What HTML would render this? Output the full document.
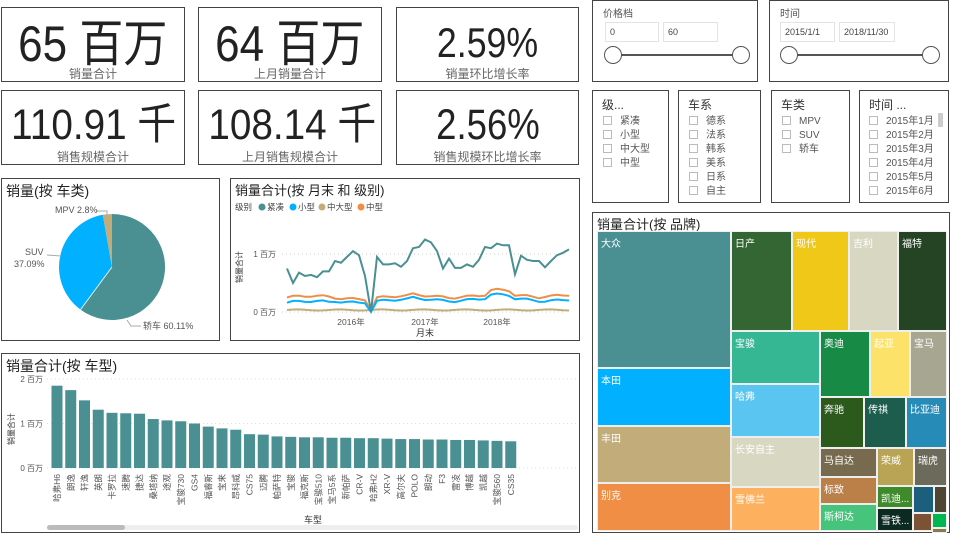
<!DOCTYPE html>
<html><head><meta charset="utf-8">
<style>
*{margin:0;padding:0;box-sizing:border-box}
body{width:956px;height:540px;background:#fff;position:relative;overflow:hidden;font-family:"Liberation Sans","Noto Sans CJK SC",sans-serif;color:#333}
.box{position:absolute;border:1.5px solid #444;background:#fff}
.num{position:absolute;left:0;right:0;text-align:center;font-family:"Liberation Sans Narrow","Liberation Sans","Noto Sans CJK SC",sans-serif;color:#222;white-space:nowrap}
.num span{display:inline-block}
.lab{position:absolute;left:0;right:0;text-align:center;font-size:12px;color:#666;white-space:nowrap}
.t{position:absolute;font-size:13px;color:#222;white-space:nowrap}
.sl{position:absolute;font-size:10px;color:#555;white-space:nowrap}
.cb{display:inline-block;width:9px;height:9px;border:1px solid #bbb;margin-right:8px;vertical-align:-1px}
.ln{height:14px;line-height:14px}
.inp{position:absolute;border:1px solid #e3e3e3;font-size:9px;color:#444;padding-left:4px;line-height:18px;height:20px}
.tm{position:absolute;color:#fff;font-size:10px;padding:3px 0 0 3px;border:1px solid #eee;overflow:hidden;white-space:nowrap}
</style></head><body>

<div class="box" style="left:1px;top:7px;width:184px;height:75px"><div class="num" style="top:8px;font-size:50px;line-height:56px"><span style="transform:scaleX(0.88)">65 百万</span></div><div class="lab" style="top:57px">销量合计</div></div>
<div class="box" style="left:198px;top:7px;width:184px;height:75px"><div class="num" style="top:8px;font-size:50px;line-height:56px"><span style="transform:scaleX(0.88)">64 百万</span></div><div class="lab" style="top:57px">上月销量合计</div></div>
<div class="box" style="left:396px;top:7px;width:183px;height:75px"><div class="num" style="top:12px;font-size:42px;line-height:46px"><span style="transform:scaleX(0.85)">2.59%</span></div><div class="lab" style="top:57px">销量环比增长率</div></div>
<div class="box" style="left:1px;top:90px;width:184px;height:75px"><div class="num" style="top:10px;font-size:43px;line-height:48px"><span style="transform:scaleX(0.9)">110.91 千</span></div><div class="lab" style="top:57px">销售规模合计</div></div>
<div class="box" style="left:198px;top:90px;width:184px;height:75px"><div class="num" style="top:10px;font-size:43px;line-height:48px"><span style="transform:scaleX(0.9)">108.14 千</span></div><div class="lab" style="top:57px">上月销售规模合计</div></div>
<div class="box" style="left:396px;top:90px;width:183px;height:75px"><div class="num" style="top:10px;font-size:43px;line-height:48px"><span style="transform:scaleX(0.85)">2.56%</span></div><div class="lab" style="top:57px">销售规模环比增长率</div></div>

<!-- slicers -->
<div class="box" style="left:592px;top:0;width:166px;height:82px">
 <div class="sl" style="left:10px;top:4px">价格档</div>
 <div class="inp" style="left:12px;top:21px;width:54px">0</div>
 <div class="inp" style="left:70px;top:21px;width:55px">60</div>
 <div style="position:absolute;left:20px;top:53px;width:128px;height:2px;background:#555"></div>
 <div style="position:absolute;left:11px;top:45px;width:18px;height:18px;border:1.5px solid #555;border-radius:50%;background:#fff"></div>
 <div style="position:absolute;left:139px;top:45px;width:18px;height:18px;border:1.5px solid #555;border-radius:50%;background:#fff"></div>
</div>
<div class="box" style="left:769px;top:0;width:180px;height:82px">
 <div class="sl" style="left:10px;top:4px">时间</div>
 <div class="inp" style="left:10px;top:21px;width:55px">2015/1/1</div>
 <div class="inp" style="left:69px;top:21px;width:56px">2018/11/30</div>
 <div style="position:absolute;left:18px;top:53px;width:145px;height:2px;background:#555"></div>
 <div style="position:absolute;left:10px;top:45px;width:18px;height:18px;border:1.5px solid #555;border-radius:50%;background:#fff"></div>
 <div style="position:absolute;left:152px;top:45px;width:18px;height:18px;border:1.5px solid #555;border-radius:50%;background:#fff"></div>
</div>
<div class="box" style="left:592px;top:90px;width:77px;height:113px"><div class="sl" style="left:9px;top:5px;font-size:12px;color:#333">级...</div>
 <div class="sl" style="left:10px;top:24px"><div class="ln"><span class="cb"></span>紧凑</div><div class="ln"><span class="cb"></span>小型</div><div class="ln"><span class="cb"></span>中大型</div><div class="ln"><span class="cb"></span>中型</div></div></div>
<div class="box" style="left:678px;top:90px;width:83px;height:113px"><div class="sl" style="left:9px;top:5px;font-size:12px;color:#333">车系</div>
 <div class="sl" style="left:10px;top:24px"><div class="ln"><span class="cb"></span>德系</div><div class="ln"><span class="cb"></span>法系</div><div class="ln"><span class="cb"></span>韩系</div><div class="ln"><span class="cb"></span>美系</div><div class="ln"><span class="cb"></span>日系</div><div class="ln"><span class="cb"></span>自主</div></div></div>
<div class="box" style="left:771px;top:90px;width:79px;height:113px"><div class="sl" style="left:9px;top:5px;font-size:12px;color:#333">车类</div>
 <div class="sl" style="left:10px;top:24px"><div class="ln"><span class="cb"></span>MPV</div><div class="ln"><span class="cb"></span>SUV</div><div class="ln"><span class="cb"></span>轿车</div></div></div>
<div class="box" style="left:859px;top:90px;width:90px;height:113px"><div class="sl" style="left:9px;top:5px;font-size:12px;color:#333">时间 ...</div>
 <div class="sl" style="left:9px;top:24px"><div class="ln"><span class="cb"></span>2015年1月</div><div class="ln"><span class="cb"></span>2015年2月</div><div class="ln"><span class="cb"></span>2015年3月</div><div class="ln"><span class="cb"></span>2015年4月</div><div class="ln"><span class="cb"></span>2015年5月</div><div class="ln"><span class="cb"></span>2015年6月</div></div>
 <div style="position:absolute;left:78px;top:22px;width:5px;height:14px;background:#ccc"></div></div>

<!-- pie -->
<div class="box" style="left:1px;top:178px;width:219px;height:163px">
<div class="t" style="left:4px;top:2px;font-size:14px">销量(按 车类)</div>
<svg style="position:absolute;left:-1px;top:-1px" width="219" height="163">
<path d="M111,36 A53,53 0 1 1 79.5,131.6 L111,89 Z" fill="#4a9093"/>
<path d="M111,89 L79.5,131.6 A53,53 0 0 1 101.8,36.8 Z" fill="#01b0ff"/>
<path d="M111,89 L101.8,36.8 A53,53 0 0 1 111,36 Z" fill="#c2ad7a"/>
<line x1="111" y1="89" x2="79.5" y2="131.6" stroke="#fff" stroke-width="0.8"/>
<path d="M126,142 L130,148 L140,148" stroke="#aaa" fill="none"/>
<path d="M46,77 L60,78" stroke="#aaa" fill="none"/>
<path d="M95,33 L106,33 L106,38" stroke="#aaa" fill="none"/>
<g font-size="9" fill="#555" font-family="Liberation Sans,Noto Sans CJK SC,sans-serif">
<text x="142" y="151">轿车 60.11%</text>
<text x="24" y="77">SUV</text><text x="13" y="89">37.09%</text>
<text x="54" y="35">MPV 2.8%</text></g>
</svg></div>

<!-- line -->
<div class="box" style="left:230px;top:178px;width:350px;height:163px">
<div class="t" style="left:4px;top:1px;font-size:13px">销量合计(按 月末 和 级别)</div>
<svg id="ls" style="position:absolute;left:-1px;top:-1px" width="350" height="163" font-family="Liberation Sans,Noto Sans CJK SC,sans-serif"></svg>
</div>

<!-- bar -->
<div class="box" style="left:1px;top:353px;width:579px;height:180px">
<div class="t" style="left:4px;top:2px;font-size:14px">销量合计(按 车型)</div>
<svg id="bs" style="position:absolute;left:-1px;top:-1px" width="579" height="180" font-family="Liberation Sans,Noto Sans CJK SC,sans-serif"></svg>
</div>

<!-- treemap -->
<div class="box" style="left:592px;top:212px;width:358px;height:321px">
<div class="t" style="left:4px;top:1px;font-size:13px">销量合计(按 品牌)</div></div>
<div id="tm"></div>

<script>
(function(){
var s=document.getElementById('ls'),h='';
var X0=57,st=6.0,Z=134,K=58;
var c=[0.75,0.5,0.68,0.62,0.64,0.6,0.7,0.7,0.88,0.85,0.95,1.05,0.98,0.62,0.0,0.95,0.82,0.82,0.84,0.78,0.88,1.1,1.12,1.25,1.2,1.05,0.75,0.92,0.76,0.76,0.82,0.78,0.9,1.12,1.1,1.18,1.15,1.15,0.65,0.97,0.9,0.88,0.88,0.77,0.88,0.98,1.02,1.08];
function pts(f){var p=[];for(var i=0;i<c.length;i++){p.push((X0+i*st).toFixed(1)+','+(Z-f(i)*K).toFixed(1));}return p.join(' ');}
function w(i){return Math.sin(i*1.3)*0.02+Math.sin(i*0.4)*0.03;}
function sm(i){if(i==14)return 0.0;if(i==13)return 0.15;var b=0.19+(i>20?0.03:0)+(i>33&&i<38?0.05:0);return b+w(i)-(i<8?0.03:0);}
function md(i){if(i==14)return 0.02;if(i==13)return 0.2;var b=0.25+(i>20?0.03:0)+(i>33&&i<38?0.07:0)+(i>42?0.02:0);return b+w(i);}
function bg(i){return 0.035+Math.sin(i*0.9)*0.01;}
h+='<line x1="52" x2="335" y1="'+(Z-K)+'" y2="'+(Z-K)+'" stroke="#ccc" stroke-dasharray="1,3"/>';
h+='<line x1="52" x2="335" y1="'+Z+'" y2="'+Z+'" stroke="#ccc" stroke-dasharray="1,3"/>';
h+='<text x="46" y="'+(Z-K+3)+'" font-size="8" fill="#555" text-anchor="end">1 百万</text>';
h+='<text x="46" y="'+(Z+3)+'" font-size="8" fill="#555" text-anchor="end">0 百万</text>';
[['2016年',121],['2017年',195],['2018年',267]].forEach(function(a){h+='<text x="'+a[1]+'" y="147" font-size="8.5" fill="#555" text-anchor="middle">'+a[0]+'</text>';});
h+='<text x="195" y="158" font-size="9" fill="#333" text-anchor="middle">月末</text>';
h+='<text transform="translate(12,105) rotate(-90)" font-size="8" fill="#333">销量合计</text>';
h+='<text x="5" y="32" font-size="8.5" fill="#444">级别</text>';
var lg=[['紧凑','#4a9093',32],['小型','#01b0ff',63],['中大型','#c2ad7a',92],['中型','#f08e46',131]];
lg.forEach(function(a){h+='<circle cx="'+a[2]+'" cy="29" r="3.5" fill="'+a[1]+'"/><text x="'+(a[2]+5)+'" y="32" font-size="8.5" fill="#444">'+a[0]+'</text>';});
h+='<polyline points="'+pts(bg)+'" fill="none" stroke="#c2ad7a" stroke-width="2"/>';
h+='<polyline points="'+pts(md)+'" fill="none" stroke="#f08e46" stroke-width="2"/>';
h+='<polyline points="'+pts(sm)+'" fill="none" stroke="#01b0ff" stroke-width="2"/>';
h+='<polyline points="'+pts(function(i){return c[i]})+'" fill="none" stroke="#4a9093" stroke-width="2"/>';
s.innerHTML=h;
})();
(function(){
var s=document.getElementById('bs'),h='';
var v=[1.85,1.75,1.52,1.31,1.24,1.23,1.22,1.1,1.07,1.05,1.0,0.93,0.89,0.86,0.76,0.75,0.71,0.7,0.69,0.69,0.68,0.68,0.67,0.67,0.66,0.65,0.65,0.64,0.64,0.63,0.63,0.62,0.61,0.60];
var l=['哈弗H6','朗逸','轩逸','英朗','卡罗拉','速腾','捷达','桑塔纳','途观','宝骏730','GS4','福睿斯','宝来','昂科威','CS75','迈腾','帕萨特','宝骏','福克斯','宝骏510','宝马5系','新帕萨','CR-V','哈弗H2','XR-V','高尔夫','POLO','朗动','F3','雷凌','博越','凯越','宝骏560','CS35'];
var Z=115,K=44.5,X0=56,st=13.75;
[0,1,2].forEach(function(k){h+='<line x1="46" x2="578" y1="'+(Z-k*K)+'" y2="'+(Z-k*K)+'" stroke="#ddd" stroke-dasharray="1,3"/><text x="42" y="'+(Z-k*K+3)+'" font-size="8" fill="#555" text-anchor="end">'+k+' 百万</text>';});
for(var i=0;i<v.length;i++){var x=X0+i*st-5.5;h+='<rect x="'+x+'" y="'+(Z-v[i]*K)+'" width="11" height="'+(v[i]*K)+'" fill="#4a9093"/>';
h+='<text transform="translate('+(X0+i*st+3)+',121) rotate(-90)" font-size="8.5" fill="#555" text-anchor="end">'+l[i]+'</text>';}
h+='<text x="312" y="170" font-size="9" fill="#333" text-anchor="middle">车型</text>';
h+='<text transform="translate(13,92) rotate(-90)" font-size="8" fill="#333">销量合计</text>';
h+='<rect x="46" y="172" width="531" height="5" rx="2.5" fill="#eee"/><rect x="46" y="172" width="78" height="5" rx="2.5" fill="#bbb"/>';
s.innerHTML=h;
})();
(function(){
var t=[['大众',597,231,730,367,'#4a9093'],['本田',597,368,730,425,'#01b0ff'],['丰田',597,426,730,482,'#c2ad7a'],['别克',597,483,730,530,'#f08e46'],
['日产',731,231,791,330,'#336633'],['现代',792,231,848,330,'#f0c817'],['吉利',849,231,897,330,'#d8d7c2'],['福特',898,231,946,330,'#244424'],
['宝骏',731,331,819,383,'#36b794'],['哈弗',731,384,819,436,'#5bc5f2'],['长安自主',731,437,819,486,'#d8d7c2'],['雪佛兰',731,487,819,530,'#fdb05e'],
['奥迪',820,331,869,396,'#178a45'],['起亚',870,331,909,396,'#fde26a'],['宝马',910,331,946,396,'#a7a690'],
['奔驰',820,397,863,447,'#2c5a1c'],['传祺',864,397,905,447,'#1c5d4e'],['比亚迪',906,397,946,447,'#278bb8'],
['马自达',820,448,876,476,'#776a4e'],['标致',820,477,876,503,'#bb7f48'],['斯柯达',820,504,876,530,'#46c47c'],
['荣威',877,448,913,485,'#b9a455'],['瑞虎',914,448,946,485,'#6c6a5b'],['凯迪...',877,486,912,507,'#3f8b2c'],['雪铁...',877,508,912,530,'#0b2a22'],
['',913,486,933,512,'#1b5f7c'],['',934,486,946,512,'#4e4632'],['',913,513,931,530,'#7b5234'],['',932,513,946,527,'#00b64f'],['',932,528,946,530,'#8a7a4a']];
var h='';t.forEach(function(a){h+='<div class="tm" style="left:'+a[1]+'px;top:'+a[2]+'px;width:'+(a[3]-a[1]+1)+'px;height:'+(a[4]-a[2]+1)+'px;background:'+a[5]+'">'+a[0]+'</div>';});
document.getElementById('tm').innerHTML=h;
})();
</script>
</body></html>
